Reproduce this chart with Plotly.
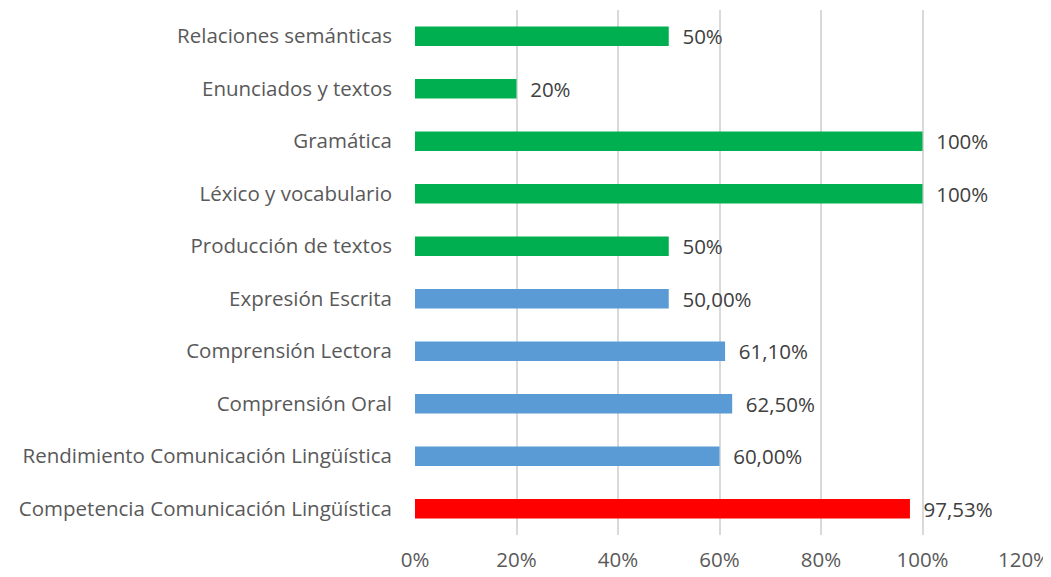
import plotly.graph_objects as go

categories = [
    "Relaciones semánticas",
    "Enunciados y textos",
    "Gramática",
    "Léxico y vocabulario",
    "Producción de textos",
    "Expresión Escrita",
    "Comprensión Lectora",
    "Comprensión Oral",
    "Rendimiento Comunicación Lingüística",
    "Competencia Comunicación Lingüística",
]
values = [0.50, 0.20, 1.00, 1.00, 0.50, 0.50, 0.611, 0.625, 0.60, 0.9753]
labels = ["50%", "20%", "100%", "100%", "50%", "50,00%", "61,10%", "62,50%", "60,00%", "97,53%"]
colors = ["#00B050"] * 5 + ["#5B9BD5"] * 4 + ["#FF0000"]

FONT = "Open Sans"

fig = go.Figure(go.Bar(
    x=values, y=categories, orientation="h",
    marker=dict(color=colors, line=dict(width=0)),
    width=0.37,
    text=labels, texttemplate="  %{text}", textposition="outside",
    constraintext="none",
    textfont=dict(size=20.5, color="#404040", family=FONT),
    cliponaxis=False,
))

# the page body adds an 8px margin, so the figure is sized to fit inside it
fig.update_layout(
    width=1043, height=569,
    margin=dict(l=407, r=27, t=2, b=42),
    plot_bgcolor="white", paper_bgcolor="white",
    font=dict(family=FONT, size=20.5, color="#595959"),
    showlegend=False,
    xaxis=dict(range=[0, 1.2], dtick=0.2, tickformat=".0%", showgrid=True,
               gridcolor="#D9D9D9", gridwidth=1.5, zeroline=False,
               showline=False, ticks="", ticklabelstandoff=10, automargin=False),
    yaxis=dict(autorange="reversed", showgrid=False, showline=False,
               ticks="", ticklabelstandoff=22, automargin=False),
)

fig.write_html("out.html")
